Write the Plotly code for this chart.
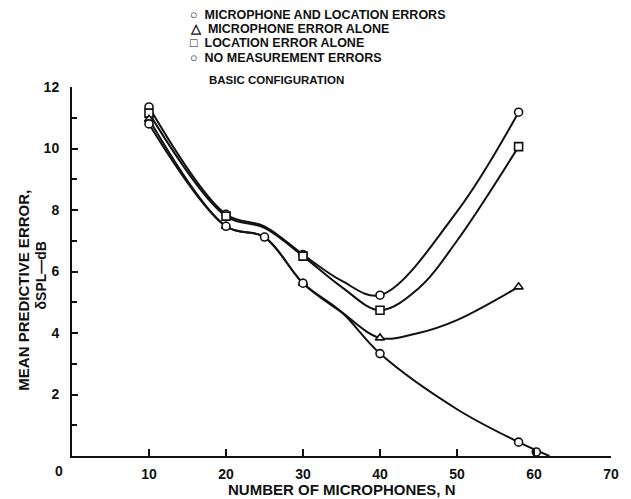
import plotly.graph_objects as go

# ---- data ----
# marker points
ml_x = [10, 20, 30, 40, 58]
ml_y = [11.35, 7.86, 6.55, 5.23, 11.18]          # microphone and location errors
mic_x = [10, 20, 30, 40, 58]
mic_y = [10.95, 7.47, 5.62, 3.84, 5.50]          # microphone error alone
loc_x = [10, 20, 30, 40, 58]
loc_y = [11.15, 7.80, 6.50, 4.74, 10.06]         # location error alone
none_x = [10, 20, 25, 30, 40, 58, 60.3]
none_y = [10.80, 7.47, 7.12, 5.62, 3.33, 0.45, 0.13]  # no measurement errors

# curves traced through the picture (lines only)
ml_cx = [10, 20, 25, 30, 35, 40, 50, 58]
ml_cy = [11.35, 7.86, 7.47, 6.55, 5.7, 5.23, 7.95, 11.18]
loc_cx = [10, 20, 25, 30, 35, 40, 45, 50, 58]
loc_cy = [11.15, 7.80, 7.42, 6.50, 5.50, 4.74, 5.45, 7.0, 10.06]
mic_cx = [10, 20, 25, 30, 35, 40, 45, 50, 58]
mic_cy = [10.95, 7.47, 7.12, 5.62, 4.68, 3.84, 4.0, 4.42, 5.50]
none_cx = [10, 20, 25, 30, 35, 40, 50, 58, 62]
none_cy = [10.80, 7.47, 7.12, 5.62, 4.68, 3.33, 1.52, 0.45, 0.0]

legend_labels = ["MICROPHONE AND LOCATION ERRORS", "MICROPHONE ERROR ALONE",
                 "LOCATION ERROR ALONE", "NO MEASUREMENT ERRORS"]
legend_symbols = ["○", "△", "□", "○"]
x_ticks = [10, 20, 30, 40, 50, 60, 70]
y_ticks = [2, 4, 6, 8, 10, 12]

FONT = "Liberation Sans"
BLACK = "#111111"

fig = go.Figure()

for cx, cy in [(ml_cx, ml_cy), (loc_cx, loc_cy), (mic_cx, mic_cy), (none_cx, none_cy)]:
    fig.add_trace(go.Scatter(x=cx, y=cy, mode="lines",
                             line=dict(color=BLACK, width=2, shape="spline", smoothing=1.0),
                             hoverinfo="skip", showlegend=False, cliponaxis=False))

for mx, my, sym in [(ml_x, ml_y, "circle"), (loc_x, loc_y, "square"),
                    (mic_x, mic_y, "triangle-up"), (none_x, none_y, "circle")]:
    fig.add_trace(go.Scatter(x=mx, y=my, mode="markers",
                             marker=dict(symbol=sym, size=8, color="white",
                                         line=dict(color=BLACK, width=1.6)),
                             showlegend=False, cliponaxis=False))

fig.update_layout(
    width=631, height=499,
    margin=dict(l=72, r=13, t=87, b=43),
    paper_bgcolor="white", plot_bgcolor="white",
    font=dict(family=FONT, color=BLACK, size=13, weight="bold"),
    showlegend=False,
)

fig.update_xaxes(range=[0, 70], showgrid=False, zeroline=False,
                 showline=True, linecolor=BLACK, linewidth=2,
                 tickmode="array", tickvals=x_ticks, ticktext=[str(v) for v in x_ticks],
                 ticks="inside", ticklen=7, tickwidth=2, tickcolor=BLACK,
                 ticklabelstandoff=4,
                 tickfont=dict(family=FONT, size=14, color=BLACK, weight="bold"))
fig.update_yaxes(range=[0, 12], showgrid=False, zeroline=False,
                 showline=True, linecolor=BLACK, linewidth=2,
                 tickmode="array", tickvals=y_ticks, ticktext=[str(v) for v in y_ticks],
                 ticks="inside", ticklen=6, tickwidth=2, tickcolor=BLACK,
                 ticklabelstandoff=8,
                 minor=dict(tickvals=[1, 3, 5, 7, 9, 11], ticks="inside", ticklen=5,
                            tickwidth=2, tickcolor=BLACK),
                 tickfont=dict(family=FONT, size=14, color=BLACK, weight="bold"))

def px_x(p):
    return (p - 72) / 546

def px_y(p):
    return (456 - p) / 369

annotations = []
# origin "0"
annotations.append(dict(x=px_x(59), y=px_y(471), xref="paper", yref="paper", text="0",
                        showarrow=False, xanchor="center", yanchor="middle",
                        font=dict(size=14, family=FONT, color=BLACK, weight="bold")))
# axis titles
annotations.append(dict(x=px_x(345), y=px_y(489), xref="paper", yref="paper",
                        xanchor="center", yanchor="middle",
                        text="NUMBER OF MICROPHONES, N", showarrow=False,
                        font=dict(size=15, family=FONT, color=BLACK, weight="bold")))
annotations.append(dict(x=px_x(22), y=px_y(290), xref="paper", yref="paper",
                        xanchor="center", yanchor="middle",
                        text="MEAN PREDICTIVE ERROR,", textangle=-90, showarrow=False,
                        font=dict(size=15, family=FONT, color=BLACK, weight="bold")))
annotations.append(dict(x=px_x(41), y=px_y(275), xref="paper", yref="paper",
                        xanchor="center", yanchor="middle",
                        text="δSPL—dB", textangle=-90, showarrow=False,
                        font=dict(size=14, family=FONT, color=BLACK, weight="bold")))
# legend
rows_y = [15, 29.5, 43.5, 58]
for sym, lab, py in zip(legend_symbols, legend_labels, rows_y):
    annotations.append(dict(x=px_x(190), y=px_y(py), xref="paper", yref="paper",
                            xanchor="left", yanchor="middle",
                            text=sym + "  " + lab, showarrow=False,
                            font=dict(size=12.5, family=FONT, color=BLACK, weight="bold")))
annotations.append(dict(x=px_x(209), y=px_y(80), xref="paper", yref="paper",
                        xanchor="left", yanchor="middle",
                        text="BASIC CONFIGURATION", showarrow=False,
                        font=dict(size=11.5, family=FONT, color=BLACK, weight="bold")))
fig.update_layout(annotations=annotations)

fig.write_html("out.html")
